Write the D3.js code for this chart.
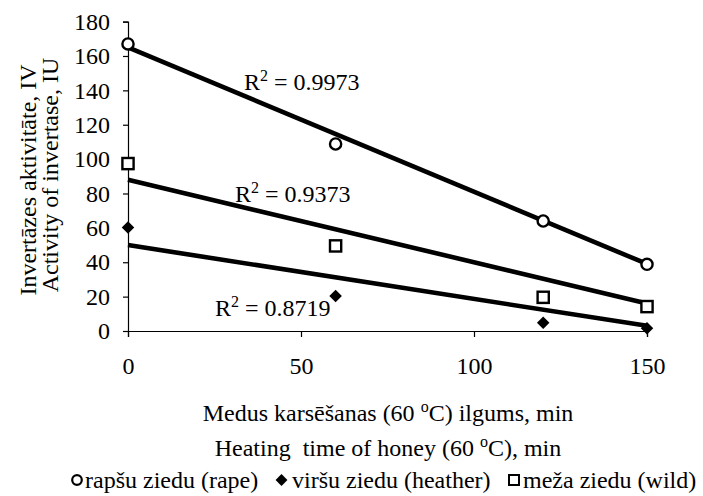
<!DOCTYPE html>
<html><head><meta charset="utf-8">
<script src="https://cdn.jsdelivr.net/npm/d3@7"></script>
<style>
html,body{margin:0;padding:0;background:#fff;}
svg{display:block;}
text{font-family:"Liberation Serif","Times New Roman",serif;fill:#000;}
</style></head>
<body>
<svg id="chart" width="703" height="496"></svg>
<script>
// ---- data ----
const heatingTimes = [0, 60, 120, 150];
const seriesNames = ["rapšu ziedu (rape)", "viršu ziedu (heather)", "meža ziedu (wild)"];
const rapeValues    = [167, 108.8, 64, 38.8];
const heatherValues = [60.2, 20.4, 4.8, 1.6];
const wildValues    = [97.4, 49.5, 19.6, 14.2];
// trendline values at x = 0 and x = 150
const trendStart = [165, 50, 88];
const trendEnd   = [39, 3, 16];
const rSquared = ["0.9973", "0.8719", "0.9373"];
const xTicks = [0, 50, 100, 150];
const yTicks = [0, 20, 40, 60, 80, 100, 120, 140, 160, 180];
const yTitle = ["Invertāzes aktivitāte, IV", "Activity of invertase, IU"];
const xTitle = ["Medus karsēšanas (60 ", "C) ilgums, min", "Heating  time of honey (60 ", "C), min"];

const svg = d3.select("#chart");
const FS = 24;
const FONT = '"Liberation Serif","Times New Roman",serif';
const x = d3.scaleLinear().domain([0, 150]).range([128, 647]);
const y = d3.scaleLinear().domain([0, 180]).range([331, 21.6]);

// axes
const yAxis = d3.axisLeft(y).tickValues(yTicks).tickSize(5).tickPadding(13).tickFormat(d3.format("d"));
const gy = svg.append("g").attr("transform", `translate(${x(0)},0)`).call(yAxis);
const xAxis = d3.axisBottom(x).tickValues(xTicks).tickSize(6).tickPadding(20).tickFormat(d3.format("d"));
const gx = svg.append("g").attr("transform", `translate(0,${y(0)})`).call(xAxis);
[gx, gy].forEach(g => {
  g.attr("font-family", FONT).attr("font-size", FS);
  g.select(".domain").attr("stroke", "#000").attr("stroke-width", 1.2);
  g.selectAll(".tick line").attr("stroke", "#000").attr("stroke-width", 1.2);
  g.selectAll(".tick text").attr("fill", "#000");
});

// trendlines
const seriesVals = [rapeValues, heatherValues, wildValues];
const line = d3.line().x(d => x(d[0])).y(d => y(d[1]));
seriesVals.forEach((v, i) => {
  svg.append("path")
    .attr("d", line([[0, trendStart[i]], [150, trendEnd[i]]]))
    .attr("fill", "none").attr("stroke", "#000").attr("stroke-width", 4.6);
});

// markers
const pts = s => heatingTimes.map((t, i) => [t, s[i]]);
svg.append("g").selectAll("circle").data(pts(rapeValues)).join("circle")
  .attr("cx", d => x(d[0])).attr("cy", d => y(d[1])).attr("r", 5.6)
  .attr("fill", "#fff").attr("stroke", "#000").attr("stroke-width", 2.4);
svg.append("g").selectAll("path").data(pts(heatherValues)).join("path")
  .attr("d", d3.symbol().type(d3.symbolDiamond2).size(100))
  .attr("transform", d => `translate(${x(d[0])},${y(d[1])})`)
  .attr("fill", "#000");
svg.append("g").selectAll("rect").data(pts(wildValues)).join("rect")
  .attr("x", d => x(d[0]) - 5.6).attr("y", d => y(d[1]) - 5.6)
  .attr("width", 11.2).attr("height", 11.2)
  .attr("fill", "#fff").attr("stroke", "#000").attr("stroke-width", 2.4);

// R² labels
const rPos = [[244, 90], [215, 316], [235, 202]];
rSquared.forEach((r, i) => {
  const t = svg.append("text").attr("x", rPos[i][0]).attr("y", rPos[i][1]).attr("font-size", FS);
  t.append("tspan").text("R");
  t.append("tspan").attr("font-size", 16).attr("dy", -9).text("2");
  t.append("tspan").attr("dy", 9).text(" = " + r);
});

// y title
const yt = [[36, 180], [58, 175]];
yTitle.forEach((s, i) => {
  svg.append("text").attr("x", yt[i][0]).attr("y", yt[i][1])
    .attr("transform", `rotate(-90,${yt[i][0]},${yt[i][1]})`)
    .attr("text-anchor", "middle").attr("font-size", FS).text(s);
});

// x title
function supText(xc, yb, a, b) {
  const t = svg.append("text").attr("x", xc).attr("y", yb).attr("text-anchor", "middle")
    .attr("font-size", FS).style("white-space", "pre");
  t.append("tspan").text(a);
  t.append("tspan").attr("font-size", 16).attr("dy", -9).text("o");
  t.append("tspan").attr("dy", 9).text(b);
}
supText(388, 421, xTitle[0], xTitle[1]);
supText(388, 456, xTitle[2], xTitle[3]);

// legend
const lg = svg.append("g");
const ly = 488, lm = 480;
lg.append("circle").attr("cx", 77).attr("cy", lm).attr("r", 4.8)
  .attr("fill", "#fff").attr("stroke", "#000").attr("stroke-width", 2.2);
lg.append("path").attr("d", d3.symbol().type(d3.symbolDiamond2).size(90))
  .attr("transform", `translate(281.5,${lm})`).attr("fill", "#000");
lg.append("rect").attr("x", 509).attr("y", lm - 5).attr("width", 10).attr("height", 10)
  .attr("fill", "#fff").attr("stroke", "#000").attr("stroke-width", 2);
const lx = [85, 292, 523];
seriesNames.forEach((s, i) => {
  lg.append("text").attr("x", lx[i]).attr("y", ly).attr("font-size", FS).text(s);
});
</script>
</body></html>
